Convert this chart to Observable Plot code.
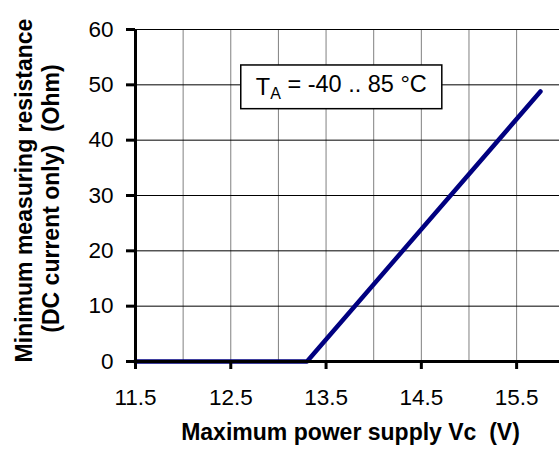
<!DOCTYPE html>
<html>
<head>
<meta charset="utf-8">
<script src="https://cdn.jsdelivr.net/npm/d3@7"></script>
<script src="https://cdn.jsdelivr.net/npm/@observablehq/plot@0.6"></script>
<style>
  html, body { margin: 0; padding: 0; background: #fff; }
</style>
</head>
<body>
<div id="chart"></div>
<script>
// Data
const supplyV = [11.5, 13.3, 15.75];
const resistance = [0, 0, 48.8];
const xTickValues = [11.5, 12.5, 13.5, 14.5, 15.5];
const xGridValues = [12, 12.5, 13, 13.5, 14, 14.5, 15, 15.5];
const yTickValues = [0, 10, 20, 30, 40, 50, 60];
const annotationText = ["TA = -40 .. 85 °C"];
const annotationPos = {x: 13.66, y: 49.6};
const annotationBox = {x1: 12.61, x2: 14.72, y1: 45.6, y2: 53.5};
const xTitle = "Maximum power supply Vc  (V)";
const yTitle1 = "Minimum measuring resistance";
const yTitle2 = "(DC current only)  (Ohm)";

const data = supplyV.map((v, i) => ({v, r: resistance[i]}));
const font = "'Liberation Sans', Arial, sans-serif";

const chart = Plot.plot({
  width: 559,
  height: 450,
  marginLeft: 135,
  marginRight: 0,
  marginTop: 29,
  marginBottom: 89,
  style: {fontFamily: font, fontSize: "22px", color: "#000", background: "#fff"},
  x: {domain: [11.5, 15.95]},
  y: {domain: [0, 60]},
  marks: [
    Plot.ruleX(xGridValues, {stroke: "#808080", strokeWidth: 1}),
    Plot.ruleY(yTickValues, {stroke: "#000", strokeWidth: 1}),
    Plot.rect([annotationBox], {x1: "x1", x2: "x2", y1: "y1", y2: "y2", fill: "#fff", stroke: "#000", strokeWidth: 1.5}),
    Plot.text(annotationText, {x: annotationPos.x, y: annotationPos.y, text: d => d, fontSize: 23.5, fill: "#000", className: "annot"}),
    Plot.line(data, {x: "v", y: "r", stroke: "#000080", strokeWidth: 4.5, strokeLinecap: "round"}),
    Plot.ruleX([11.5], {stroke: "#000", strokeWidth: 3}),
    Plot.ruleY([0], {stroke: "#000", strokeWidth: 3}),
    Plot.axisX(xTickValues, {tickSize: 8, strokeWidth: 3, tickPadding: 20, tickFormat: d => d.toFixed(1), label: null, className: "xax"}),
    Plot.axisY(yTickValues, {tickSize: 9, strokeWidth: 3, tickPadding: 13, label: null, className: "yax"}),
    Plot.text([xTitle], {frameAnchor: "bottom", text: d => d, dx: 3, dy: 78, fontSize: 23, fontWeight: "bold", fill: "#000"}),
    Plot.text([yTitle1], {frameAnchor: "left", textAnchor: "middle", text: d => d, rotate: -90, dx: -111, dy: -5, fontSize: 23, fontWeight: "bold", fill: "#000"}),
    Plot.text([yTitle2], {frameAnchor: "left", textAnchor: "middle", text: d => d, rotate: -90, dx: -84, dy: 3, fontSize: 23, fontWeight: "bold", fill: "#000"})
  ]
});

// enlarge tick labels
d3.select(chart).selectAll("g[aria-label$='tick label']").attr("font-size", "22.5px").style("font-size", "22.5px");

// subscript "A" in the annotation
d3.select(chart).selectAll("g.annot text").each(function() {
  const t = d3.select(this);
  t.text(null);
  t.append("tspan").text("T");
  t.append("tspan").attr("dy", "0.3em").attr("font-size", "16px").text("A");
  t.append("tspan").attr("dy", "-0.3em").text(" = -40 .. 85 °C");
});

document.getElementById("chart").appendChild(chart);
</script>
</body>
</html>
